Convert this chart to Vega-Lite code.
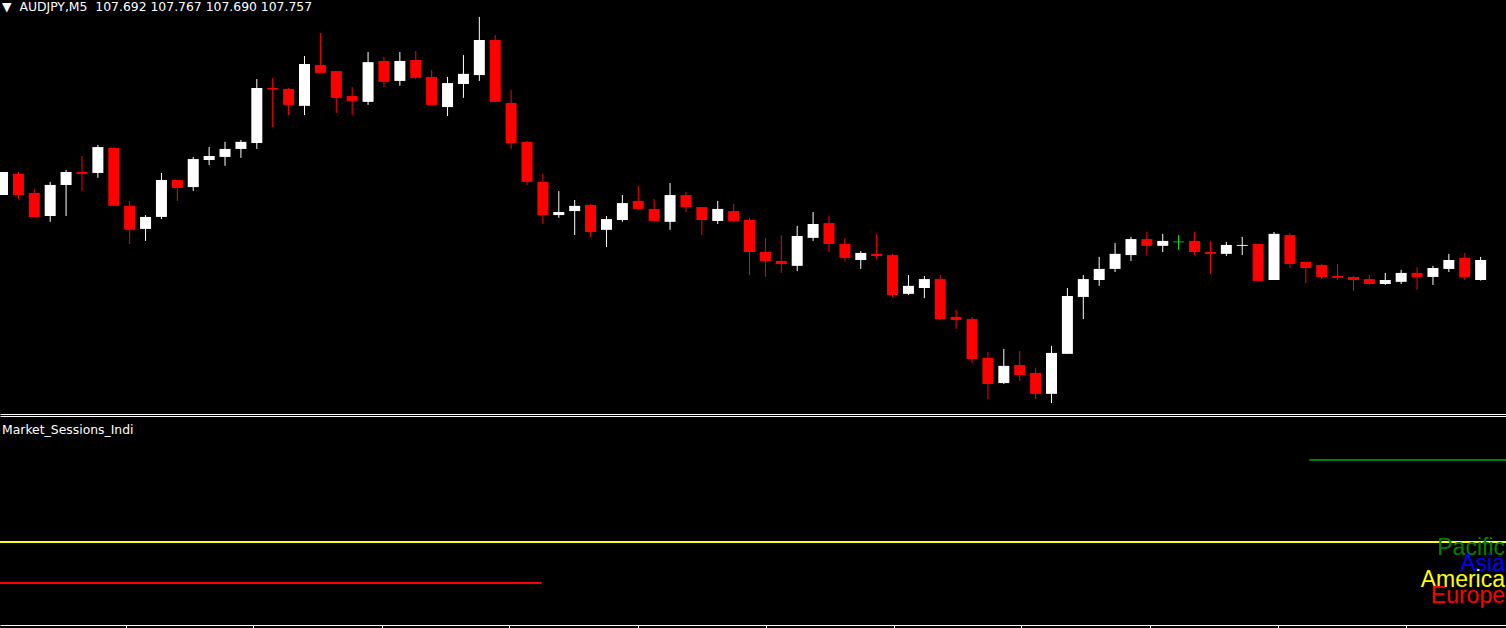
{
  "$schema": "https://vega.github.io/schema/vega-lite/v6.json",
  "background": "black",
  "padding": 0,
  "spacing": 2,
  "bounds": "flush",
  "config": {"view": {"stroke": null}},
  "resolve": {"scale": {"color": "independent"}, "legend": {"color": "independent"}},
  "datasets": {
    "candles": [
      {"i": -1, "o": 107.968, "h": 108.043, "l": 107.968, "c": 108.043},
      {"i": 0, "o": 108.037, "h": 108.043, "l": 107.955, "c": 107.968},
      {"i": 1, "o": 107.975, "h": 107.988, "l": 107.897, "c": 107.897},
      {"i": 2, "o": 107.900, "h": 108.011, "l": 107.881, "c": 108.001},
      {"i": 3, "o": 108.001, "h": 108.050, "l": 107.900, "c": 108.043},
      {"i": 4, "o": 108.043, "h": 108.095, "l": 107.981, "c": 108.037},
      {"i": 5, "o": 108.040, "h": 108.131, "l": 108.024, "c": 108.124},
      {"i": 6, "o": 108.121, "h": 108.124, "l": 107.933, "c": 107.933},
      {"i": 7, "o": 107.933, "h": 107.949, "l": 107.809, "c": 107.855},
      {"i": 8, "o": 107.858, "h": 107.903, "l": 107.819, "c": 107.897},
      {"i": 9, "o": 107.897, "h": 108.040, "l": 107.890, "c": 108.017},
      {"i": 10, "o": 108.017, "h": 108.017, "l": 107.949, "c": 107.991},
      {"i": 11, "o": 107.994, "h": 108.092, "l": 107.981, "c": 108.085},
      {"i": 12, "o": 108.082, "h": 108.124, "l": 108.066, "c": 108.095},
      {"i": 13, "o": 108.092, "h": 108.141, "l": 108.063, "c": 108.118},
      {"i": 14, "o": 108.118, "h": 108.147, "l": 108.089, "c": 108.141},
      {"i": 15, "o": 108.137, "h": 108.345, "l": 108.118, "c": 108.316},
      {"i": 16, "o": 108.316, "h": 108.349, "l": 108.189, "c": 108.311},
      {"i": 17, "o": 108.313, "h": 108.316, "l": 108.228, "c": 108.261},
      {"i": 18, "o": 108.258, "h": 108.420, "l": 108.228, "c": 108.394},
      {"i": 19, "o": 108.391, "h": 108.495, "l": 108.365, "c": 108.365},
      {"i": 20, "o": 108.371, "h": 108.371, "l": 108.235, "c": 108.284},
      {"i": 21, "o": 108.290, "h": 108.319, "l": 108.228, "c": 108.274},
      {"i": 22, "o": 108.271, "h": 108.433, "l": 108.261, "c": 108.400},
      {"i": 23, "o": 108.404, "h": 108.417, "l": 108.319, "c": 108.336},
      {"i": 24, "o": 108.339, "h": 108.433, "l": 108.323, "c": 108.404},
      {"i": 25, "o": 108.407, "h": 108.436, "l": 108.345, "c": 108.349},
      {"i": 26, "o": 108.352, "h": 108.375, "l": 108.258, "c": 108.261},
      {"i": 27, "o": 108.254, "h": 108.352, "l": 108.225, "c": 108.332},
      {"i": 28, "o": 108.329, "h": 108.423, "l": 108.284, "c": 108.362},
      {"i": 29, "o": 108.358, "h": 108.547, "l": 108.339, "c": 108.472},
      {"i": 30, "o": 108.472, "h": 108.488, "l": 108.271, "c": 108.271},
      {"i": 31, "o": 108.267, "h": 108.310, "l": 108.118, "c": 108.137},
      {"i": 32, "o": 108.141, "h": 108.144, "l": 108.001, "c": 108.011},
      {"i": 33, "o": 108.011, "h": 108.037, "l": 107.874, "c": 107.903},
      {"i": 34, "o": 107.903, "h": 107.981, "l": 107.894, "c": 107.913},
      {"i": 35, "o": 107.916, "h": 107.952, "l": 107.838, "c": 107.933},
      {"i": 36, "o": 107.936, "h": 107.939, "l": 107.832, "c": 107.848},
      {"i": 37, "o": 107.855, "h": 107.900, "l": 107.799, "c": 107.890},
      {"i": 38, "o": 107.887, "h": 107.968, "l": 107.881, "c": 107.942},
      {"i": 39, "o": 107.949, "h": 107.998, "l": 107.920, "c": 107.923},
      {"i": 40, "o": 107.923, "h": 107.955, "l": 107.884, "c": 107.884},
      {"i": 41, "o": 107.881, "h": 108.007, "l": 107.855, "c": 107.968},
      {"i": 42, "o": 107.968, "h": 107.978, "l": 107.913, "c": 107.929},
      {"i": 43, "o": 107.929, "h": 107.929, "l": 107.838, "c": 107.887},
      {"i": 44, "o": 107.884, "h": 107.949, "l": 107.874, "c": 107.923},
      {"i": 45, "o": 107.916, "h": 107.939, "l": 107.881, "c": 107.884},
      {"i": 46, "o": 107.887, "h": 107.894, "l": 107.708, "c": 107.783},
      {"i": 47, "o": 107.783, "h": 107.829, "l": 107.702, "c": 107.754},
      {"i": 48, "o": 107.754, "h": 107.838, "l": 107.715, "c": 107.744},
      {"i": 49, "o": 107.738, "h": 107.868, "l": 107.721, "c": 107.835},
      {"i": 50, "o": 107.829, "h": 107.913, "l": 107.819, "c": 107.874},
      {"i": 51, "o": 107.877, "h": 107.900, "l": 107.783, "c": 107.809},
      {"i": 52, "o": 107.809, "h": 107.829, "l": 107.754, "c": 107.764},
      {"i": 53, "o": 107.757, "h": 107.786, "l": 107.728, "c": 107.780},
      {"i": 54, "o": 107.777, "h": 107.842, "l": 107.760, "c": 107.770},
      {"i": 55, "o": 107.773, "h": 107.777, "l": 107.637, "c": 107.643},
      {"i": 56, "o": 107.647, "h": 107.708, "l": 107.643, "c": 107.673},
      {"i": 57, "o": 107.666, "h": 107.705, "l": 107.633, "c": 107.695},
      {"i": 58, "o": 107.695, "h": 107.708, "l": 107.562, "c": 107.565},
      {"i": 59, "o": 107.572, "h": 107.595, "l": 107.533, "c": 107.562},
      {"i": 60, "o": 107.565, "h": 107.572, "l": 107.422, "c": 107.435},
      {"i": 61, "o": 107.439, "h": 107.458, "l": 107.305, "c": 107.354},
      {"i": 62, "o": 107.357, "h": 107.468, "l": 107.354, "c": 107.413},
      {"i": 63, "o": 107.416, "h": 107.461, "l": 107.364, "c": 107.383},
      {"i": 64, "o": 107.390, "h": 107.406, "l": 107.305, "c": 107.322},
      {"i": 65, "o": 107.322, "h": 107.478, "l": 107.292, "c": 107.455},
      {"i": 66, "o": 107.452, "h": 107.666, "l": 107.452, "c": 107.640},
      {"i": 67, "o": 107.637, "h": 107.708, "l": 107.565, "c": 107.695},
      {"i": 68, "o": 107.692, "h": 107.767, "l": 107.673, "c": 107.728},
      {"i": 69, "o": 107.728, "h": 107.812, "l": 107.718, "c": 107.777},
      {"i": 70, "o": 107.773, "h": 107.832, "l": 107.754, "c": 107.825},
      {"i": 71, "o": 107.825, "h": 107.848, "l": 107.773, "c": 107.803},
      {"i": 72, "o": 107.803, "h": 107.842, "l": 107.783, "c": 107.819},
      {"i": 73, "o": 107.816, "h": 107.838, "l": 107.790, "c": 107.816},
      {"i": 74, "o": 107.819, "h": 107.848, "l": 107.773, "c": 107.783},
      {"i": 75, "o": 107.783, "h": 107.819, "l": 107.712, "c": 107.777},
      {"i": 76, "o": 107.777, "h": 107.816, "l": 107.770, "c": 107.806},
      {"i": 77, "o": 107.803, "h": 107.832, "l": 107.773, "c": 107.806},
      {"i": 78, "o": 107.809, "h": 107.809, "l": 107.689, "c": 107.689},
      {"i": 79, "o": 107.692, "h": 107.848, "l": 107.692, "c": 107.842},
      {"i": 80, "o": 107.838, "h": 107.845, "l": 107.731, "c": 107.744},
      {"i": 81, "o": 107.751, "h": 107.751, "l": 107.682, "c": 107.731},
      {"i": 82, "o": 107.741, "h": 107.744, "l": 107.695, "c": 107.702},
      {"i": 83, "o": 107.705, "h": 107.744, "l": 107.692, "c": 107.699},
      {"i": 84, "o": 107.702, "h": 107.705, "l": 107.656, "c": 107.692},
      {"i": 85, "o": 107.695, "h": 107.708, "l": 107.676, "c": 107.679},
      {"i": 86, "o": 107.679, "h": 107.715, "l": 107.676, "c": 107.692},
      {"i": 87, "o": 107.686, "h": 107.725, "l": 107.679, "c": 107.715},
      {"i": 88, "o": 107.715, "h": 107.734, "l": 107.660, "c": 107.702},
      {"i": 89, "o": 107.702, "h": 107.738, "l": 107.676, "c": 107.731},
      {"i": 90, "o": 107.728, "h": 107.777, "l": 107.718, "c": 107.757},
      {"i": 91, "o": 107.764, "h": 107.780, "l": 107.692, "c": 107.702},
      {"i": 92, "o": 107.692, "h": 107.767, "l": 107.690, "c": 107.757}
    ],
    "sessions": [
      {"session": "Europe", "level": 1, "start": -2, "end": 33},
      {"session": "America", "level": 2, "start": -2, "end": 95},
      {"session": "Pacific", "level": 4, "start": 81, "end": 95}
    ],
    "labels": [
      {"session": "Pacific"},
      {"session": "Asia"},
      {"session": "America"},
      {"session": "Europe"}
    ]
  },
  "vconcat": [
    {
      "width": 1506,
      "height": 414,
      "title": {
        "text": "▼ \u00a0AUDJPY,M5 \u00a0107.692 107.767 107.690 107.757",
        "anchor": "start",
        "frame": "group",
        "orient": "top",
        "offset": -12,
        "dx": 2,
        "dy": 1,
        "baseline": "top",
        "font": "DejaVu Sans",
        "fontSize": 12.4,
        "fontWeight": "normal",
        "color": "white"
      },
      "data": {"name": "candles"},
      "encoding": {
        "x": {
          "field": "i",
          "type": "quantitative",
          "scale": {"domain": [-0.84375, 93.28125], "nice": false, "zero": false},
          "axis": {"orient": "bottom", "domainColor": "white", "domainWidth": 1, "ticks": false, "labels": false, "grid": false, "title": null}
        },
        "color": {
          "condition": [
            {"test": "datum.c > datum.o", "value": "#ffffff"},
            {"test": "datum.c < datum.o", "value": "#ff0000"}
          ],
          "value": "#00ff00"
        }
      },
      "layer": [
        {
          "mark": {"type": "rule", "strokeWidth": 1, "clip": true},
          "encoding": {
            "y": {"field": "l", "type": "quantitative", "scale": {"domain": [107.2565, 108.602], "nice": false, "zero": false}, "axis": null},
            "y2": {"field": "h"}
          }
        },
        {
          "transform": [{"filter": "datum.o != datum.c"}],
          "mark": {"type": "bar", "size": 11, "clip": true},
          "encoding": {
            "y": {"field": "o", "type": "quantitative", "scale": {"domain": [107.2565, 108.602], "nice": false, "zero": false}, "axis": null},
            "y2": {"field": "c"}
          }
        },
        {
          "transform": [{"filter": "datum.o == datum.c"}],
          "mark": {"type": "tick", "orient": "horizontal", "size": 11, "thickness": 1, "clip": true},
          "encoding": {
            "y": {"field": "o", "type": "quantitative", "scale": {"domain": [107.2565, 108.602], "nice": false, "zero": false}, "axis": null}
          }
        }
      ]
    },
    {
      "width": 1506,
      "height": 209,
      "title": {
        "text": "Market_Sessions_Indi",
        "anchor": "start",
        "frame": "group",
        "orient": "top",
        "offset": -12,
        "dx": 2,
        "dy": 8,
        "baseline": "top",
        "font": "DejaVu Sans",
        "fontSize": 12.4,
        "fontWeight": "normal",
        "color": "white"
      },
      "data": {"name": "sessions"},
      "resolve": {"axis": {"x": "independent"}, "scale": {"y": "independent"}},
      "layer": [
        {
          "mark": {"type": "rule", "strokeWidth": 2, "clip": true},
          "encoding": {
            "x": {
              "field": "start", "type": "quantitative",
              "scale": {"domain": [-0.84375, 93.28125], "nice": false, "zero": false},
              "axis": {"orient": "top", "domainColor": "white", "ticks": false, "labels": false, "grid": false, "title": null}
            },
            "x2": {"field": "end"},
            "y": {"field": "level", "type": "quantitative", "scale": {"domain": [-0.0244, 5.0732], "nice": false, "zero": false}, "axis": null},
            "color": {
              "field": "session", "type": "nominal",
              "scale": {"domain": ["Pacific", "Asia", "America", "Europe"], "range": ["#008000", "#0000ff", "#ffff00", "#ff0000"]},
              "legend": null
            }
          }
        },
        {
          "mark": {"type": "rule", "strokeWidth": 2, "clip": true},
          "encoding": {
            "x": {
              "field": "start", "type": "quantitative",
              "scale": {"domain": [-0.84375, 93.28125], "nice": false, "zero": false},
              "axis": {"orient": "bottom", "values": [7, 15, 23, 31, 39, 47, 55, 63, 71, 79, 87], "domainColor": "white", "tickColor": "white", "tickSize": 4, "labels": false, "grid": false, "title": null}
            },
            "x2": {"field": "end"},
            "y": {"field": "level", "type": "quantitative", "scale": {"domain": [-0.0244, 5.0732], "nice": false, "zero": false}, "axis": null},
            "color": {"field": "session", "type": "nominal", "legend": null}
          }
        },
        {
          "data": {"name": "labels"},
          "mark": {"type": "text", "align": "right", "baseline": "alphabetic", "font": "Liberation Sans", "fontSize": 23, "dx": -1},
          "encoding": {
            "x": {"value": "width"},
            "y": {
              "field": "session", "type": "ordinal",
              "scale": {"type": "point", "domain": ["Pacific", "Asia", "America", "Europe"], "range": [139, 187], "padding": 0},
              "axis": null
            },
            "text": {"field": "session"},
            "color": {"field": "session", "type": "nominal", "legend": null}
          }
        }
      ]
    }
  ]
}
